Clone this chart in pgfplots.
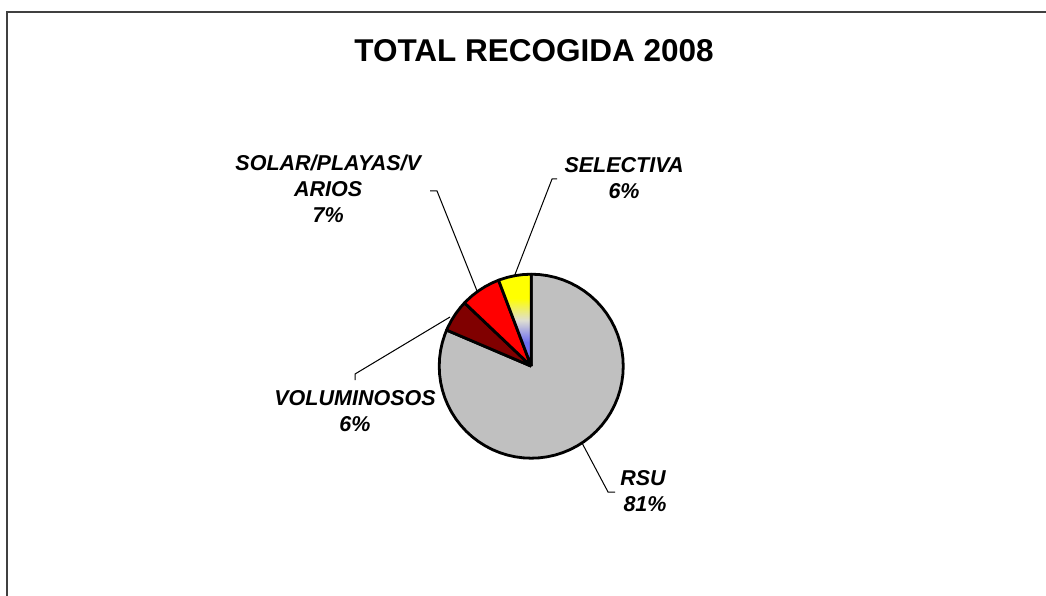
\documentclass[border=0pt]{standalone}
\usepackage{pgfplots}
\pgfplotsset{compat=1.18}
\usepgfplotslibrary{polar}
\usepackage{fontspec}
\setmainfont{Liberation Sans}
\definecolor{framegray}{RGB}{64,64,64}
\definecolor{rsu}{RGB}{192,192,192}
\definecolor{vol}{RGB}{128,0,0}
\definecolor{solar}{RGB}{255,0,0}
\definecolor{selA}{RGB}{255,255,0}
\definecolor{selB}{RGB}{222,222,210}
\definecolor{selC}{RGB}{110,110,240}
\pgfdeclareverticalshading{selshade}{100bp}{color(0bp)=(selC); color(38bp)=(selC); color(50bp)=(selB); color(62bp)=(selA); color(100bp)=(selA)}
\newcommand{\lab}{\bfseries\itshape\fontsize{21.5}{26}\selectfont}
\begin{document}
\begin{tikzpicture}[x=1pt,y=1pt]
\begin{axis}[at={(0,0)}, anchor=south west, scale only axis, width=1046pt, height=595pt,
  xmin=-531.2, xmax=514.8, ymin=-228.8, ymax=366.2, hide axis, clip=false]
% frame (top and left edges visible)
\addplot[draw=framegray, line width=2pt, mark=none] coordinates {(-524.2,-233.8) (-524.2,354.2) (520.8,354.2)};
% pie slices: (angle, radius), data in percent: RSU 81.4, VOLUMINOSOS 5.7, SOLAR 7.1, SELECTIVA 5.8
\addplot[data cs=polar, fill=rsu, draw=black, line width=2.8pt, line join=round, mark=none] coordinates {
(0,0) (90,92) (85,92) (80,92) (75,92) (70,92) (65,92) (60,92) (55,92) (50,92) (45,92) (40,92) (35,92)
(30,92) (25,92) (20,92) (15,92) (10,92) (5,92) (0,92) (-5,92) (-10,92) (-15,92) (-20,92) (-25,92)
(-30,92) (-35,92) (-40,92) (-45,92) (-50,92) (-55,92) (-60,92) (-65,92) (-70,92) (-75,92) (-80,92)
(-85,92) (-90,92) (-95,92) (-100,92) (-105,92) (-110,92) (-115,92) (-120,92) (-125,92) (-130,92)
(-135,92) (-140,92) (-145,92) (-150,92) (-155,92) (-160,92) (-165,92) (-170,92) (-175,92) (-180,92)
(-185,92) (-190,92) (-195,92) (-200,92) (-203.1,92) (0,0)};
\addplot[data cs=polar, fill=vol, draw=black, line width=2.8pt, line join=round, mark=none] coordinates {
(0,0) (136.5,92) (140,92) (145,92) (150,92) (155,92) (156.9,92) (0,0)};
\addplot[data cs=polar, fill=solar, draw=black, line width=2.8pt, line join=round, mark=none] coordinates {
(0,0) (110.8,92) (115,92) (120,92) (125,92) (130,92) (135,92) (136.5,92) (0,0)};
\addplot[data cs=polar, shading=selshade, draw=black, line width=2.8pt, line join=round, mark=none] coordinates {
(0,0) (90,92) (95,92) (100,92) (105,92) (110,92) (110.8,92) (0,0)};
% leader lines
\addplot[black, line width=1pt, mark=none] coordinates {(-101.2,175.2) (-94.2,175.2) (-54.2,75.2)};
\addplot[black, line width=1pt, mark=none] coordinates {(25.8,187.2) (20.8,187.2) (-17.2,89.2)};
\addplot[black, line width=1pt, mark=none] coordinates {(-176.2,-13.8) (-176.2,-7.8) (-81.2,49.2)};
\addplot[black, line width=1pt, mark=none] coordinates {(50.8,-76.8) (76.8,-125.8) (83.8,-125.8)};
% title
\node[anchor=base, font=\bfseries\fontsize{31.5}{36}\selectfont] at (axis cs:2.8,304.5) {TOTAL RECOGIDA 2008};
% labels
\node[anchor=base, font=\lab] at (axis cs:-203,195.5) {SOLAR/PLAYAS/V};
\node[anchor=base, font=\lab] at (axis cs:-203,169.7) {ARIOS};
\node[anchor=base, font=\lab] at (axis cs:-203,143.2) {7\%};
\node[anchor=base, font=\lab] at (axis cs:92.8,193.5) {SELECTIVA};
\node[anchor=base, font=\lab] at (axis cs:92.8,167.2) {6\%};
\node[anchor=base, font=\lab] at (axis cs:-176.2,-38.8) {VOLUMINOSOS};
\node[anchor=base, font=\lab] at (axis cs:-176.2,-65.3) {6\%};
\node[anchor=base, font=\lab] at (axis cs:111.8,-118.8) {RSU};
\node[anchor=base, font=\lab] at (axis cs:113.8,-145.3) {81\%};
\end{axis}
\pgfresetboundingbox
\useasboundingbox (0,0) rectangle (1046,595);
\end{tikzpicture}
\end{document}
